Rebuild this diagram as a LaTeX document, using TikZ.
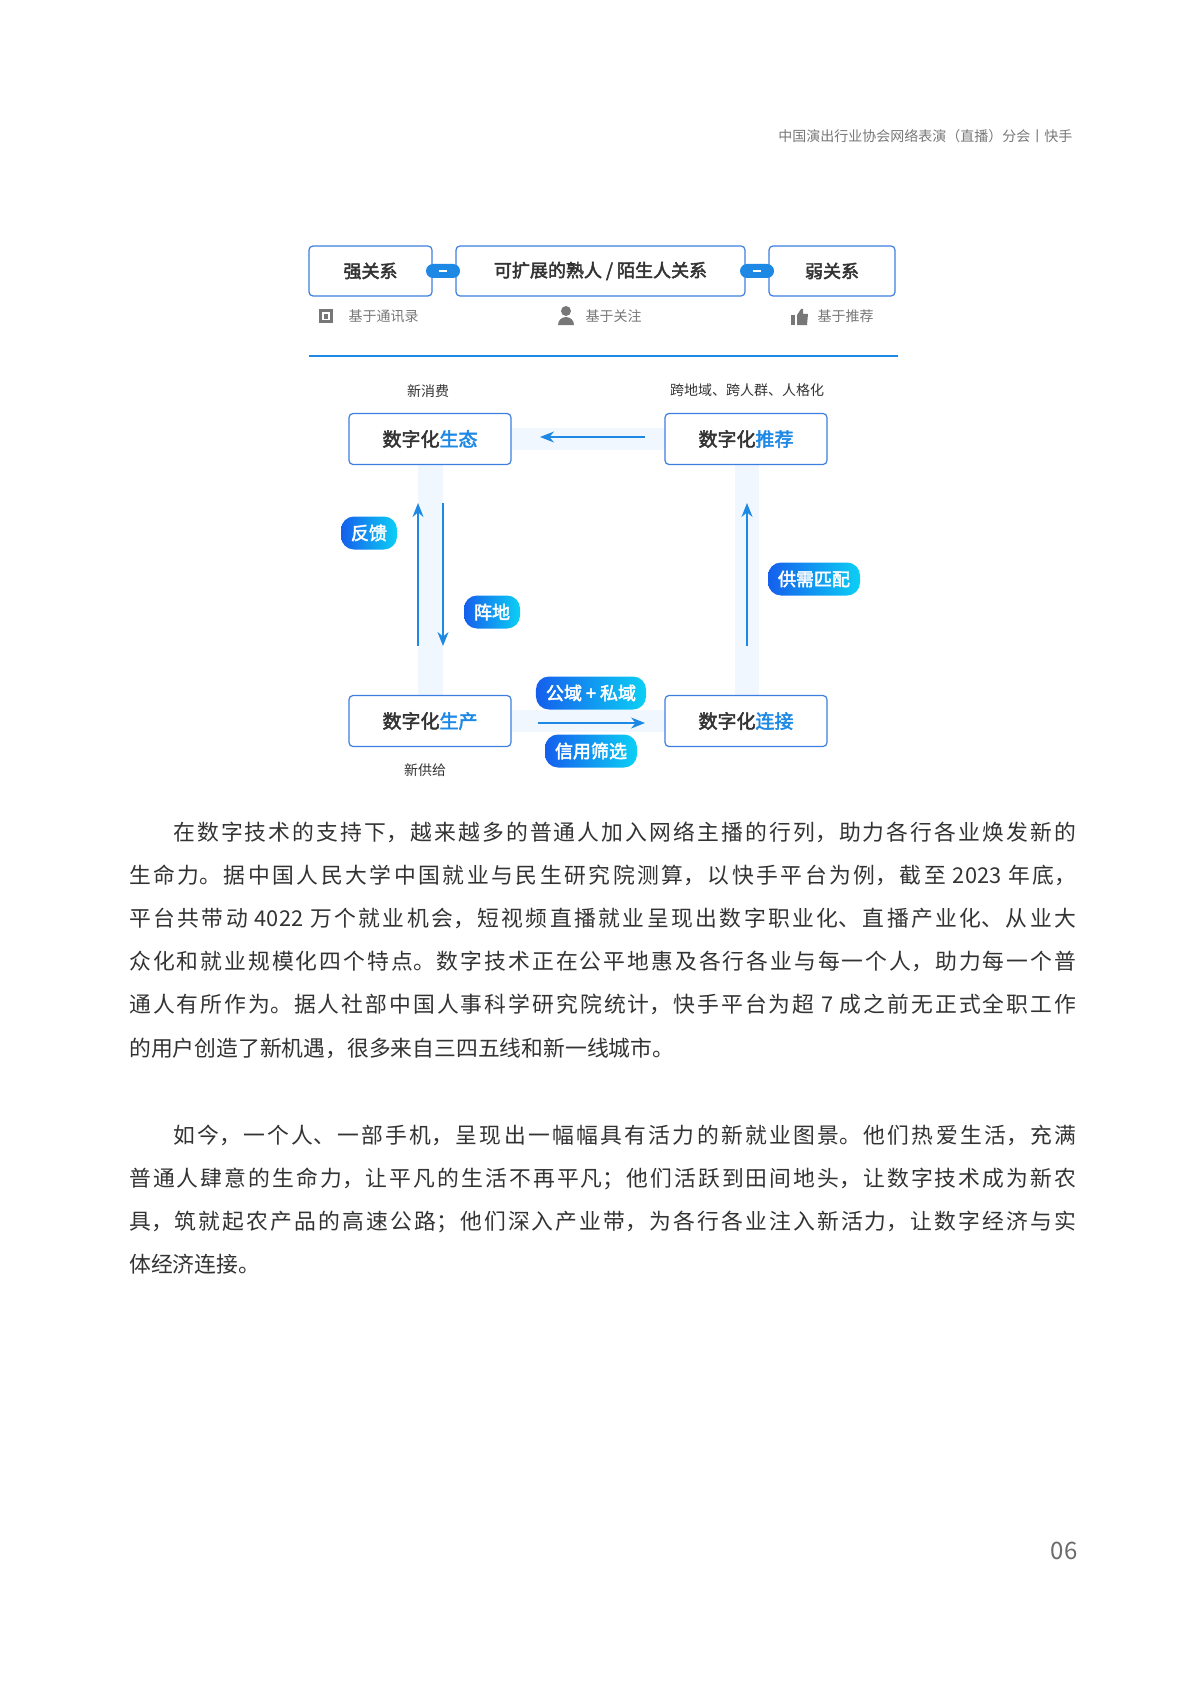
\documentclass[tikz,border=0pt]{standalone}
\usepackage{fontspec}
\setmainfont{Noto Sans CJK SC}[AutoFakeBold=2.5]
\usetikzlibrary{arrows.meta,shadings}
\XeTeXlinebreaklocale "zh"
\XeTeXlinebreakskip=0pt plus 3pt
\definecolor{bl}{HTML}{1E88E5}
\definecolor{bbord}{HTML}{3D7FE0}
\definecolor{band}{HTML}{F0F7FE}
\definecolor{tx}{HTML}{333333}
\definecolor{gr}{HTML}{777777}
\tikzset{
 topbox/.style={draw=bbord,line width=1.2pt,rounded corners=4pt,fill=white,font=\fontsize{18}{21}\selectfont\bfseries,text=tx},
 digbox/.style={draw=bbord,line width=1.2pt,rounded corners=4pt,fill=white,minimum width=162pt,minimum height=51pt,font=\fontsize{19}{22}\selectfont\bfseries,text=tx},
 sub/.style={font=\fontsize{14}{16}\selectfont,text=gr},
 pill/.style={rounded corners=13pt,left color=bl!70!blue,right color=cyan!60!bl,text=white,font=\fontsize{18}{21}\selectfont\bfseries,minimum height=33pt,inner xsep=10pt},
 arr/.style={bl,line width=1.5pt,-{Stealth[length=14pt,width=11pt]}},
 bodyl/.style={anchor=north west,inner sep=0pt,text=tx,font=\fontsize{21.8}{26}\selectfont,text width=947pt,align=justify},
}
\newcommand{\jl}[1]{{\parfillskip=0pt #1\par}}
\begin{document}
\begin{tikzpicture}[x=1pt,y=-1pt]
\useasboundingbox (0,0) rectangle (1200,1685);
\node[anchor=east,font=\fontsize{14}{16}\selectfont,text=gr] (hdr) at (1076,136) {中国演出行业协会网络表演（直播）分会丨快手};
% top row
\node[topbox,minimum width=123pt,minimum height=50pt] (s) at (370.5,271) {强关系};
\node[topbox,minimum width=289pt,minimum height=50pt] (m) at (600.5,271) {可扩展的熟人 / 陌生人关系};
\node[topbox,minimum width=126pt,minimum height=50pt] (w) at (832,271) {弱关系};
\foreach \x/\n in {443/c1,757/c2}{
 \node[fill=bl,rounded corners=7pt,minimum width=34pt,minimum height=14pt,inner sep=0pt] (\n) at (\x,271) {};
 \draw[white,line width=2pt] (\x-4,271) -- (\x+4,271);}
\node[sub,anchor=west] (t1) at (345,316) {基于通讯录};
\node[sub,anchor=west] (t2) at (582,316) {基于关注};
\node[sub,anchor=west] (t3) at (814,316) {基于推荐};
% icons
\fill[gr] (319,309) rectangle (333,323);
\fill[white] (322,312) rectangle (330,320);
\fill[gr] (324,314) rectangle (328,319);
\fill[gr] (566,311) circle (5);
\fill[gr] (558,325) arc (180:360:8) -- cycle;
\fill[gr] (791,315) rectangle (795,325);
\fill[gr] (797,325) -- (797,315) -- (801,309) -- (803,309) -- (803,314) -- (808,314) -- (807,325) -- cycle;
\draw[bl,line width=1.3pt] (309,356) -- (898,356);
% bands
\fill[band] (511,428) rectangle (665,450);
\fill[band] (511,710) rectangle (665,732);
\fill[band] (418,464) rectangle (443,695);
\fill[band] (735,464) rectangle (759,695);
% digital boxes
\node[digbox] (eco) at (430,439) {数字化\textcolor{bl}{生态}};
\node[digbox] (rec) at (746,439) {数字化\textcolor{bl}{推荐}};
\node[digbox] (pro) at (430,721) {数字化\textcolor{bl}{生产}};
\node[digbox] (con) at (746,721) {数字化\textcolor{bl}{连接}};
\node[sub,text=tx] (l1) at (428,391) {新消费};
\node[sub,text=tx] (l2) at (747,390) {跨地域、跨人群、人格化};
\node[sub,text=tx] (l3) at (425,770) {新供给};
% arrows
\coordinate (a1) at (645,437); \coordinate (a2) at (540,437);
\draw[arr] (a1) -- (a2);
\coordinate (b1) at (538,723); \coordinate (b2) at (645,723);
\draw[arr] (b1) -- (b2);
\coordinate (c1) at (418,646); \coordinate (c2) at (418,503);
\draw[arr] (c1) -- (c2);
\coordinate (d1) at (443,503); \coordinate (d2) at (443,646);
\draw[arr] (d1) -- (d2);
\coordinate (e1) at (747,646); \coordinate (e2) at (747,503);
\draw[arr] (e1) -- (e2);
\node[pill] (p1) at (369,533) {反馈};
\node[pill] (p2) at (492,612) {阵地};
\node[pill] (p3) at (814,579) {供需匹配};
\node[pill] (p4) at (591,693) {公域 + 私域};
\node[pill] (p5) at (591,751) {信用筛选};
% body
\node[bodyl] (b1a) at (129,822) {\jl{\hspace*{44pt}在数字技术的支持下，越来越多的普通人加入网络主播的行列，助力各行各业焕发新的}};
\node[bodyl] (b1b) at (129,865) {\jl{生命力。据中国人民大学中国就业与民生研究院测算，以快手平台为例，截至 2023 年底，}};
\node[bodyl] (b1c) at (129,908) {\jl{平台共带动 4022 万个就业机会，短视频直播就业呈现出数字职业化、直播产业化、从业大}};
\node[bodyl] (b1d) at (129,951) {\jl{众化和就业规模化四个特点。数字技术正在公平地惠及各行各业与每一个人，助力每一个普}};
\node[bodyl] (b1e) at (129,994) {\jl{通人有所作为。据人社部中国人事科学研究院统计，快手平台为超 7 成之前无正式全职工作}};
\node[bodyl,align=left] (b1f) at (129,1038) {的用户创造了新机遇，很多来自三四五线和新一线城市。};
\node[bodyl] (b2a) at (129,1125) {\jl{\hspace*{44pt}如今，一个人、一部手机，呈现出一幅幅具有活力的新就业图景。他们热爱生活，充满}};
\node[bodyl] (b2b) at (129,1168) {\jl{普通人肆意的生命力，让平凡的生活不再平凡；他们活跃到田间地头，让数字技术成为新农}};
\node[bodyl] (b2c) at (129,1211) {\jl{具，筑就起农产品的高速公路；他们深入产业带，为各行各业注入新活力，让数字经济与实}};
\node[bodyl,align=left] (b2d) at (129,1254) {体经济连接。};
\node[font=\fontsize{24}{28}\selectfont,text=gr!90!black] (pg) at (1064,1551) {06};
\end{tikzpicture}
\end{document}
